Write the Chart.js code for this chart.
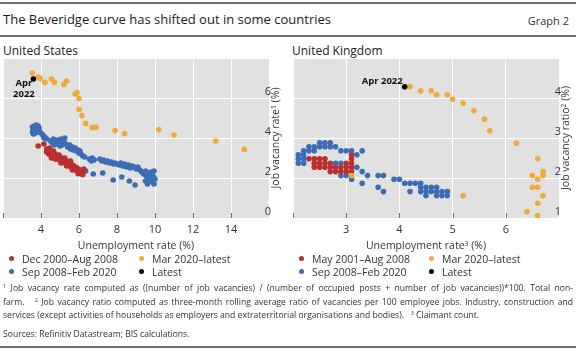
<!DOCTYPE html>
<html>
<head>
<meta charset="utf-8">
<title>The Beveridge curve has shifted out in some countries</title>
<script src="https://cdn.jsdelivr.net/npm/chart.js@4.4.1/dist/chart.umd.min.js"></script>
<style>
  body { margin: 0; background: #fff; }
  #page { position: relative; width: 576px; height: 351px; overflow: hidden; font-family: "Open Sans", sans-serif; color: #222; }
  .t { position: absolute; white-space: nowrap; }
  .rule { position: absolute; left: 0; width: 576px; background: #707070; }
  .panel { position: absolute; top: 54px; width: 288px; height: 186px; }
  .note { position: absolute; font-weight: bold; font-size: 9.5px; line-height: 11px; color: #111; text-align: center; white-space: nowrap; }
  .ytitle { position: absolute; top: 84px; font-size: 10.5px; color: #333; white-space: nowrap; transform: translate(-50%, -50%) rotate(-90deg); }
  .xtitle { position: absolute; top: 238px; font-size: 10.5px; color: #333; white-space: nowrap; transform: translateX(-50%); }
  .legend { position: absolute; font-size: 10.5px; color: #333; white-space: nowrap; line-height: 13px; }
  .dot { display: inline-block; width: 5px; height: 5px; border-radius: 50%; margin-right: 8px; vertical-align: 2px; }
  sup { font-size: 65%; line-height: 0; vertical-align: 0.5em; }
  .foot { position: absolute; left: 3px; width: 570px; font-size: 8.6px; color: #333; line-height: 13.5px; }
  .just { text-align: justify; text-align-last: justify; }
</style>
</head>
<body>
<div id="page">
  <div class="rule" style="top:2px;height:2px"></div>
  <div class="t" style="left:3px;top:10px;font-size:13px;color:#1a1a1a">The Beveridge curve has shifted out in some countries</div>
  <div class="t" style="right:7px;top:13px;font-size:11px;color:#333">Graph 2</div>
  <div class="rule" style="top:35px;height:2px"></div>

  <div class="t" style="left:3px;top:42px;font-size:12px;color:#222">United States</div>
  <div class="t" style="left:292px;top:42px;font-size:12px;color:#222">United Kingdom</div>

  <div class="panel" style="left:0">
    <canvas id="usChart" width="288" height="186"></canvas>
    <div class="note" id="usNote">Apr<br>2022</div>
    <div class="ytitle" style="left:275px">Job vacancy rate<sup>1</sup> (%)</div>
  </div>
  <div class="panel" style="left:290px">
    <canvas id="ukChart" width="288" height="186"></canvas>
    <div class="note" id="ukNote">Apr 2022</div>
    <div class="ytitle" style="left:275px">Job vacancy ratio<sup>2</sup> (%)</div>
  </div>

  <div class="xtitle" style="left:136px">Unemployment rate (%)</div>
  <div class="xtitle" style="left:426px">Unemployment rate<sup>3</sup> (%)</div>

  <div id="usLegend"></div>
  <div id="ukLegend"></div>

  <div class="foot" style="top:282px">
    <div class="just"><sup>1</sup> Job vacancy rate computed as ((number of job vacancies) / (number of occupied posts + number of job vacancies))*100. Total non-</div>
    <div class="just">farm. &nbsp;&nbsp;<sup>2</sup> Job vacancy ratio computed as three-month rolling average ratio of vacancies per 100 employee jobs. Industry, construction and</div>
    <div>services (except activities of households as employers and extraterritorial organisations and bodies). &nbsp;&nbsp;<sup>3</sup> Claimant count.</div>
  </div>
  <div class="foot" style="top:328px">Sources: Refinitiv Datastream; BIS calculations.</div>
  <div class="rule" style="top:346px;height:2px"></div>
</div>

<script>
// series labels and colours
const usLabels = ['Dec 2000–Aug 2008', 'Sep 2008–Feb 2020', 'Mar 2020–latest', 'Latest'];
const ukLabels = ['May 2001–Aug 2008', 'Sep 2008–Feb 2020', 'Mar 2020–latest', 'Latest'];
const colors = ['#b9302e', '#3a6db4', '#f0aa35', '#000000'];

// axis ranges: [min, max, step]
const usX = [2, 16, 2];
const usY = [0, 8, 2];
const ukX = [2, 7, 1];
const ukY = [1, 5, 1];

// United States: [unemployment rate, job vacancy rate]
const usPre = [
  [3.85, 3.6], [4.15, 3.7], [4.3, 3.45], [4.3, 3.3], [4.4, 3.4], [4.4, 3.2], [4.45, 3.5], [4.5, 3.35],
  [4.5, 3.15], [4.55, 3.0], [4.6, 3.25], [4.6, 3.1], [4.65, 3.35], [4.7, 3.25], [4.7, 3.05], [4.75, 2.95],
  [4.8, 3.15], [4.8, 2.98], [4.9, 3.1], [4.9, 2.95], [4.95, 3.15], [5.0, 3.05], [5.0, 2.88], [5.05, 2.75],
  [5.1, 2.98], [5.1, 2.82], [5.2, 2.95], [5.2, 2.78], [5.25, 3.0], [5.3, 2.88], [5.3, 2.72], [5.35, 2.6],
  [5.4, 2.8], [5.4, 2.65], [5.5, 2.75], [5.5, 2.6], [5.55, 2.85], [5.6, 2.68], [5.6, 2.52], [5.65, 2.4],
  [5.7, 2.62], [5.7, 2.48], [5.8, 2.55], [5.8, 2.42], [5.9, 2.5], [5.9, 2.35], [5.95, 2.22], [6.0, 2.42],
  [6.0, 2.28], [6.1, 2.38], [6.1, 2.22], [6.2, 2.32], [6.2, 2.18], [6.25, 2.45]
];
const usMid = [
  [3.55, 4.3], [3.55, 4.55], [3.6, 4.2], [3.6, 4.45], [3.65, 4.35], [3.65, 4.6], [3.7, 4.25], [3.7, 4.5],
  [3.75, 4.4], [3.75, 4.65], [3.8, 4.3], [3.8, 4.55], [3.85, 4.45], [3.85, 4.6], [3.9, 4.35], [3.9, 4.5],
  [4.0, 4.25], [4.1, 4.15], [4.15, 4.0], [4.2, 4.05], [4.3, 3.95], [4.5, 3.85], [4.6, 3.75], [4.65, 3.95],
  [4.7, 3.65], [4.75, 3.8], [4.85, 3.7], [4.9, 3.9], [5.0, 3.75], [5.0, 3.6], [5.05, 3.95], [5.1, 3.65],
  [5.2, 3.85], [5.25, 4.0], [5.3, 3.7], [5.4, 3.55], [5.5, 3.65], [5.55, 3.45], [5.65, 3.55], [5.7, 3.4],
  [5.8, 3.5], [5.85, 3.35], [5.95, 3.4], [6.0, 3.25], [6.05, 3.35], [6.1, 3.2], [6.2, 3.1], [6.3, 3.05],
  [6.55, 2.95], [6.65, 2.85], [6.7, 3.0], [6.8, 2.9], [7.1, 2.95], [7.2, 2.85], [7.3, 2.9], [7.4, 2.8],
  [7.5, 2.85], [7.6, 2.75], [7.7, 2.8], [7.8, 2.7], [7.9, 2.75], [8.0, 2.7], [8.1, 2.65], [8.2, 2.75],
  [8.3, 2.6], [8.4, 2.7], [8.5, 2.55], [8.6, 2.65], [8.7, 2.5], [8.8, 2.6], [8.9, 2.55], [9.0, 2.45],
  [9.1, 2.55], [9.2, 2.4], [9.3, 2.3], [9.4, 2.2], [9.5, 2.35], [9.55, 2.1], [9.6, 2.0], [9.7, 2.25],
  [9.75, 1.9], [9.8, 2.3], [9.85, 1.8], [9.9, 2.1], [9.95, 1.7], [10.0, 1.95], [9.5, 1.85], [9.6, 1.7],
  [9.7, 1.95], [9.8, 2.05], [9.95, 2.35],
  [6.35, 2.35], [6.75, 2.2], [7.25, 2.25], [7.8, 1.9], [8.25, 2.05], [8.65, 1.85], [8.95, 1.65]
];
const usPost = [
  [3.55, 7.25], [3.85, 7.05], [3.95, 6.98], [4.2, 6.78], [4.55, 6.95], [4.7, 6.78], [5.2, 6.68], [5.35, 6.85],
  [5.8, 6.2], [5.9, 6.27], [6.0, 5.97], [6.0, 5.43], [6.15, 5.13], [6.35, 4.73], [6.7, 4.53], [6.9, 4.53],
  [7.9, 4.37], [8.4, 4.22], [10.2, 4.42], [11.0, 4.15], [13.2, 3.85], [14.7, 3.43]
];
const usLatest = [[3.6, 6.95]];

// United Kingdom: [claimant count rate, job vacancy ratio]
const ukPre = [
  [2.3, 2.48], [2.4, 2.48], [2.4, 2.37], [2.4, 2.27], [2.5, 2.48], [2.5, 2.37], [2.5, 2.27], [2.6, 2.48],
  [2.6, 2.37], [2.6, 2.27], [2.7, 2.37], [2.7, 2.27], [2.7, 2.16], [2.8, 2.27], [2.8, 2.16], [2.9, 2.27],
  [2.9, 2.16], [3.0, 2.37], [3.0, 2.27], [3.0, 2.16], [3.1, 2.58], [3.1, 2.48], [3.1, 2.37], [3.1, 2.27],
  [3.1, 2.16]
];
const ukMid = [
  [2.1, 2.58], [2.1, 2.48], [2.1, 2.37], [2.2, 2.68], [2.2, 2.58], [2.2, 2.48], [2.2, 2.37], [2.3, 2.78],
  [2.3, 2.68], [2.4, 2.78], [2.4, 2.68], [2.5, 2.88], [2.5, 2.78], [2.6, 2.88], [2.6, 2.78], [2.7, 2.88],
  [2.7, 2.78], [2.8, 2.78], [2.8, 2.37], [2.9, 2.68], [2.9, 2.37], [3.0, 2.68], [3.1, 2.68], [3.2, 2.58],
  [3.3, 2.68], [3.2, 2.27], [3.3, 2.16], [3.4, 2.06], [2.9, 2.06], [3.0, 2.06], [3.1, 1.97], [3.3, 1.87],
  [3.6, 2.06], [3.7, 2.06], [3.6, 1.77], [3.7, 1.66], [3.9, 1.97], [4.0, 1.97], [4.1, 1.87], [4.2, 1.87],
  [4.3, 1.87], [4.2, 1.66], [4.4, 1.87], [4.4, 1.77], [4.4, 1.66], [4.5, 1.77], [4.5, 1.66], [4.5, 1.56],
  [4.6, 1.77], [4.6, 1.66], [4.7, 1.77], [4.7, 1.66], [4.7, 1.56], [4.8, 1.66], [4.8, 1.56], [4.9, 1.66],
  [4.9, 1.56]
];
const ukPost = [
  [3.1, 2.06], [5.2, 1.56], [6.6, 1.06], [6.4, 1.16], [6.6, 1.37], [6.7, 1.56], [6.5, 1.77], [6.6, 1.77],
  [6.6, 1.97], [6.5, 2.06], [6.7, 2.06], [6.7, 2.16], [6.6, 2.48], [6.2, 2.87], [5.7, 3.18], [5.6, 3.47],
  [5.4, 3.68], [5.2, 3.87], [5.0, 3.97], [4.9, 4.08], [4.7, 4.08], [4.6, 4.18], [4.4, 4.18], [4.2, 4.28]
];
const ukLatest = [[4.1, 4.28]];

const tickFont = { family: 'Open Sans', size: 11 };

// grey panel, inside tick marks and the "Apr 2022" note
const panelPlugin = {
  id: 'panel',
  beforeDraw(chart) {
    const { ctx, chartArea: a } = chart;
    ctx.save();
    ctx.fillStyle = '#e1e1e1';
    ctx.fillRect(a.left, a.top, a.right - a.left, a.bottom - a.top);
    ctx.restore();
  },
  afterDraw(chart, args, opts) {
    const { ctx, chartArea: a } = chart;
    const x = chart.scales.x;
    ctx.save();
    ctx.strokeStyle = '#6a6a6a';
    ctx.lineWidth = 1;
    x.ticks.forEach(t => {
      const px = Math.round(x.getPixelForValue(t.value)) + 0.5;
      if (px > a.right - 1) return;
      ctx.beginPath();
      ctx.moveTo(px, a.bottom - 5);
      ctx.lineTo(px, a.bottom);
      ctx.stroke();
    });
    ctx.restore();
    const pt = chart.getDatasetMeta(0).data[0];
    const el = document.getElementById(opts.note);
    el.style.left = (pt.x + opts.dx) + 'px';
    el.style.top = (pt.y + opts.dy) + 'px';
    el.style.transform = opts.shift;
  }
};

function scatterConfig(series, labels, xr, yr, note) {
  return {
    type: 'scatter',
    data: {
      // Latest on top, then the post-Covid points, then the older periods
      datasets: [3, 2, 0, 1].map(i => ({
        label: labels[i],
        data: series[i],
        backgroundColor: colors[i],
        pointRadius: 2.8,
        pointHoverRadius: 2.8,
        pointBorderWidth: 0
      }))
    },
    options: {
      responsive: false,
      animation: false,
      events: [],
      layout: { padding: { left: 3, top: 4, right: 0, bottom: 0 } },
      plugins: { legend: { display: false }, tooltip: { enabled: false }, panel: note },
      scales: {
        x: {
          type: 'linear', min: xr[0], max: xr[1],
          ticks: { stepSize: xr[2], padding: 5, color: '#333', font: tickFont, maxRotation: 0, autoSkip: false,
            callback: v => (v === xr[0] || v === xr[1]) ? '' : v },
          grid: { color: '#ffffff', drawTicks: false },
          border: { display: false },
          afterFit: s => { s.height = 22; s.paddingLeft = 0; s.paddingRight = 0; }
        },
        y: {
          type: 'linear', position: 'right', min: yr[0], max: yr[1],
          ticks: { stepSize: yr[2], mirror: true, padding: 2, labelOffset: -6, color: '#333', font: tickFont,
            callback: v => v === yr[1] ? '' : v },
          grid: { color: '#ffffff', drawTicks: false },
          border: { display: false },
          afterFit: s => { s.width = 19; s.paddingTop = 0; s.paddingBottom = 0; }
        }
      }
    },
    plugins: [panelPlugin]
  };
}

const usChart = new Chart(
  document.getElementById('usChart'),
  scatterConfig([usPre, usMid, usPost, usLatest], usLabels, usX, usY,
    { note: 'usNote', dx: -9.5, dy: -2, shift: 'translateX(-50%)' })
);
const ukChart = new Chart(
  document.getElementById('ukChart'),
  scatterConfig([ukPre, ukMid, ukPost, ukLatest], ukLabels, ukX, ukY,
    { note: 'ukNote', dx: -2, dy: -7, shift: 'translate(-100%, -50%)' })
);

// legends: two columns, two rows
function buildLegend(id, labels, left) {
  const host = document.getElementById(id);
  const cols = [[0, 1], [2, 3]];
  cols.forEach((col, c) => {
    col.forEach((i, r) => {
      const d = document.createElement('div');
      d.className = 'legend';
      d.style.left = (left + c * 130) + 'px';
      d.style.top = (253 + r * 13) + 'px';
      d.innerHTML = '<span class="dot" style="background:' + colors[i] + '"></span>' + labels[i];
      host.appendChild(d);
    });
  });
}
buildLegend('usLegend', usLabels, 9);
buildLegend('ukLegend', ukLabels, 299);
</script>
</body>
</html>
